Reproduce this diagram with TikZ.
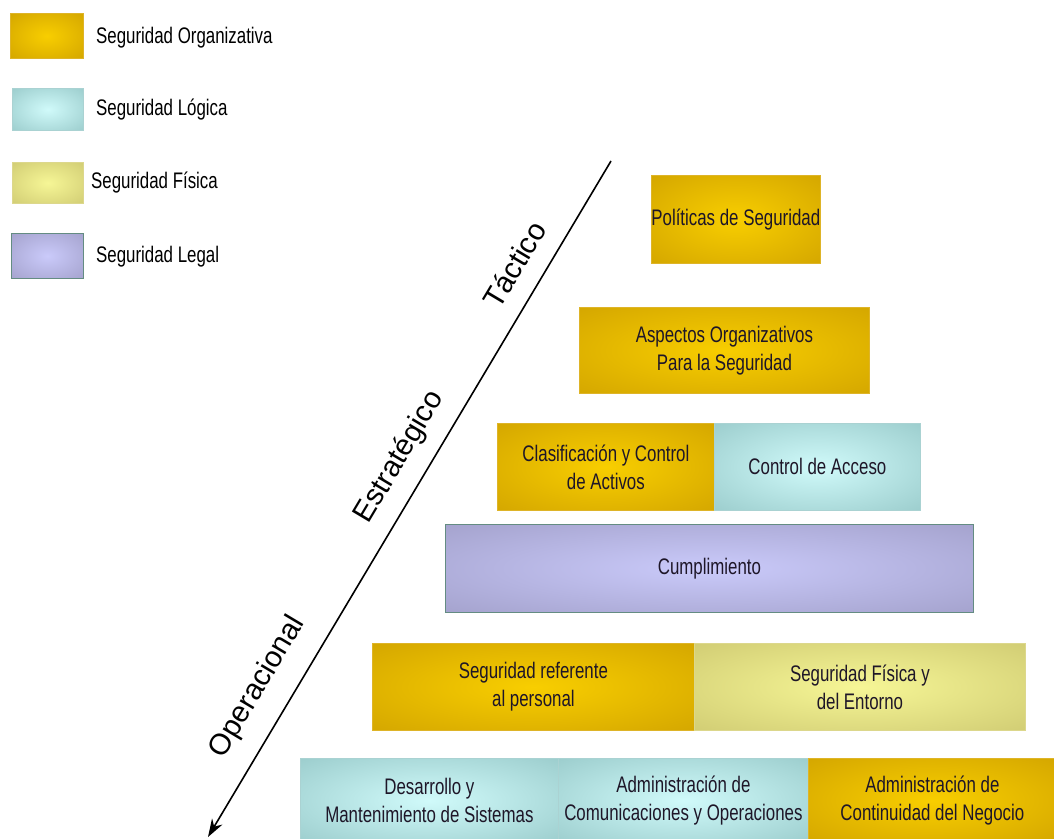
\documentclass[tikz,border=0pt]{standalone}
\usepackage{fontspec}
\setmainfont{Liberation Sans}
\newfontfamily\boxfam[FakeStretch=0.75]{Liberation Sans}
\usetikzlibrary{arrows.meta,calc}
\definecolor{orgIn}{RGB}{248,206,0}
\definecolor{orgOut}{RGB}{208,162,0}
\definecolor{orgLine}{RGB}{222,180,40}
\definecolor{logIn}{RGB}{208,250,250}
\definecolor{logOut}{RGB}{150,200,200}
\definecolor{logLine}{RGB}{170,210,210}
\definecolor{fisIn}{RGB}{246,246,150}
\definecolor{fisOut}{RGB}{205,200,112}
\definecolor{fisLine}{RGB}{220,215,140}
\definecolor{legIn}{RGB}{202,202,250}
\definecolor{legOut}{RGB}{160,158,200}
\definecolor{legLine}{RGB}{100,140,130}
\definecolor{txt}{RGB}{30,22,40}
\makeatletter
\pgfdeclareradialshading[tikz@radial@inner,tikz@radial@outer]{softrad}{\pgfpoint{0bp}{0bp}}{color(0bp)=(tikz@radial@inner); color(40bp)=(tikz@radial@outer); color(50bp)=(tikz@radial@outer)}
\makeatother
\tikzset{
  box/.style={anchor=north west, inner sep=0pt, align=center, text=txt,
    font=\boxfam\fontsize{22.5}{28}\selectfont, line width=0.8pt},
  org/.style={inner color=orgIn, outer color=orgOut, shading=softrad, draw=orgLine},
  logi/.style={inner color=logIn, outer color=logOut, shading=softrad, draw=logLine},
  fis/.style={inner color=fisIn, outer color=fisOut, shading=softrad, draw=fisLine},
  legl/.style={inner color=legIn, outer color=legOut, shading=softrad, draw=legLine},
  legtext/.style={anchor=west, inner sep=0pt, text=black, font=\boxfam\fontsize{22.5}{26}\selectfont},
  lvl/.style={rotate=59.2, inner sep=0pt, text=black, font=\fontsize{29.5}{32}\selectfont},
  axis/.style={line width=1.6pt, -{Stealth[length=18pt,width=12pt]}}
}
\begin{document}
\begin{tikzpicture}[x=1pt,y=-1pt]
\useasboundingbox (0,0) rectangle (1054,838);
\fill[white] (0,0) rectangle (1054,838);
% legend
\node[box, org, minimum width=73pt, minimum height=45pt] (lorg) at (10,13) {};
\node[box, logi, minimum width=71pt, minimum height=42pt] (llog) at (12,88) {};
\node[box, fis, minimum width=71pt, minimum height=41pt] (lfis) at (12,162) {};
\node[box, legl, minimum width=72pt, minimum height=45pt] (lleg) at (11,233) {};
\node[legtext] (torg) at (96,38) {Seguridad Organizativa};
\node[legtext] (tlog) at (96,110) {Seguridad Lógica};
\node[legtext] (tfis) at (91,183) {Seguridad Física};
\node[legtext] (tleg) at (96,257) {Seguridad Legal};
% pyramid
\node[box, org, minimum width=167pt, minimum height=88pt] (pol) at (651,175) {Políticas de Seguridad};
\node[box, org, minimum width=290pt, minimum height=86pt] (asp) at (579,307) {Aspectos Organizativos\\Para la Seguridad};
\node[box, org, minimum width=217pt, minimum height=87pt] (clas) at (497,423) {Clasificación y Control\\de Activos};
\node[box, logi, minimum width=206pt, minimum height=87pt] (acc) at (714,423) {Control de Acceso};
\node[box, legl, minimum width=528pt, minimum height=88pt] (cump) at (445,524) {Cumplimiento};
\node[box, org, minimum width=322pt, minimum height=87pt] (pers) at (372,643) {Seguridad referente\\al personal};
\node[box, fis, minimum width=331pt, minimum height=87pt] (ent) at (694,643) {Seguridad Física y\\del Entorno};
\node[box, logi, minimum width=258pt, minimum height=84pt] (des) at (300,758) {Desarrollo y\\Mantenimiento de Sistemas};
\node[box, logi, minimum width=250pt, minimum height=84pt] (com) at (558,758) {Administración de\\Comunicaciones y Operaciones};
\node[box, org, minimum width=248pt, minimum height=84pt] (cont) at (808,758) {Administración de\\Continuidad del Negocio};
% axis
\coordinate (top) at (611,161);
\coordinate (tip) at (208,837);
\draw[axis] (top) -- (tip);
\node[lvl] (tact) at ($(top)!0.176!(tip)!30pt!-90:(tip)$) {Táctico};
\node[lvl] (estr) at ($(top)!0.461!(tip)!30pt!-90:(tip)$) {Estratégico};
\node[lvl] (oper) at ($(top)!0.804!(tip)!34pt!-90:(tip)$) {Operacional};
\end{tikzpicture}
\end{document}
